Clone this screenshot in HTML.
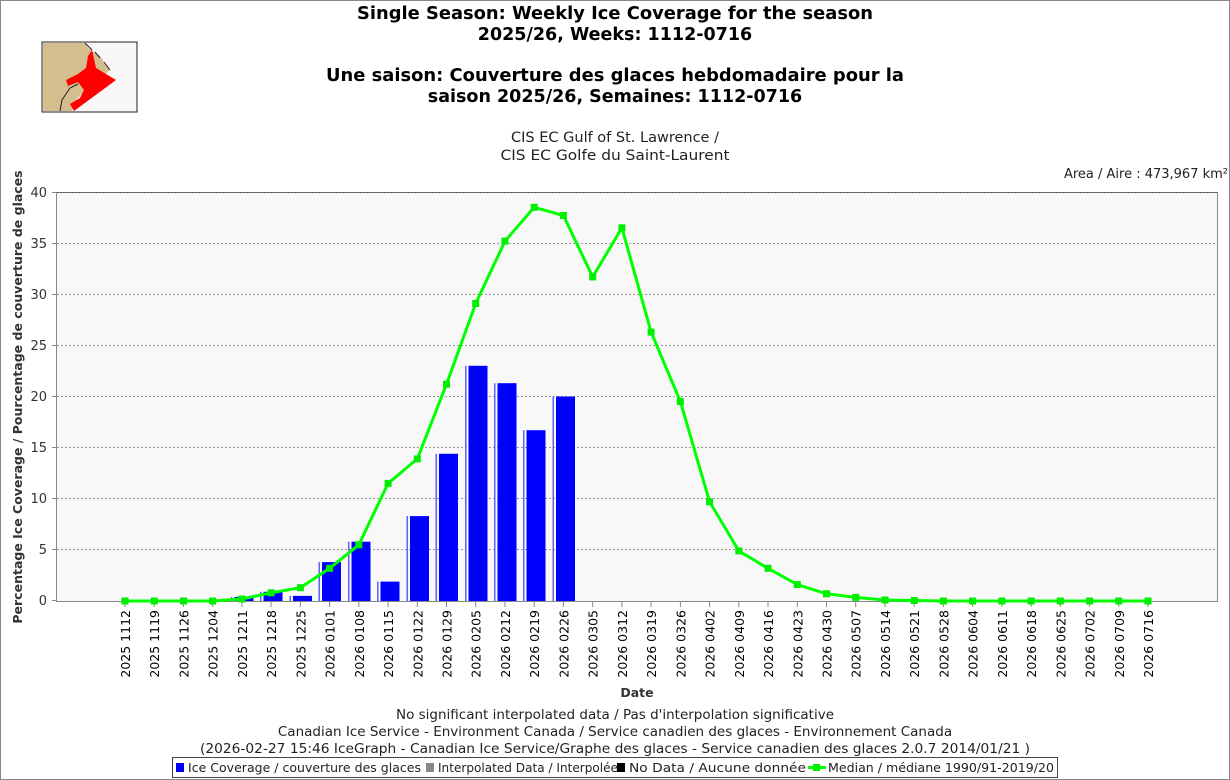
<!DOCTYPE html>
<html><head><meta charset="utf-8"><style>
html,body{margin:0;padding:0;background:#fff;}
svg{display:block;font-family:"DejaVu Sans","Liberation Sans",sans-serif;}
</style></head><body>
<svg width="1230" height="780" viewBox="0 0 1230 780" xmlns="http://www.w3.org/2000/svg">
<rect x="0.5" y="0.5" width="1229" height="779" fill="#fff" stroke="#888"/>
<!-- map -->
<rect x="42" y="42" width="95" height="70" fill="#f8f6f6" stroke="#222"/>
<path d="M43,43 L85,43 L88,48 L94,52 L100,56 L104,62 L110,70 L96,82 L86,90 L76,100 L72,111 L43,111 Z" fill="#d4be8e"/>
<path d="M88,56 L92,50 L96,68 L116,80 L74,111 L70,104 L80,98 L84,90 L78,82 L68,86 L66,80 L78,74 L86,68 Z" fill="#f00"/>
<path d="M60,111 L62,100 L70,88 L78,84 M85,43 L92,50 M95,52 L100,58 M104,62 L110,70" stroke="#222" fill="none"/>
<!-- titles -->
<g font-weight="bold" font-size="17.5" text-anchor="middle" fill="#000">
<text x="615" y="19" textLength="516" lengthAdjust="spacingAndGlyphs">Single Season: Weekly Ice Coverage for the season</text>
<text x="615" y="40">2025/26, Weeks: 1112-0716</text>
<text x="615" y="81" textLength="578" lengthAdjust="spacingAndGlyphs">Une saison: Couverture des glaces hebdomadaire pour la</text>
<text x="615" y="102">saison 2025/26, Semaines: 1112-0716</text>
</g>
<g font-size="14.5" text-anchor="middle" fill="#222">
<text x="615" y="142">CIS EC Gulf of St. Lawrence /</text>
<text x="615" y="160" textLength="229" lengthAdjust="spacingAndGlyphs">CIS EC Golfe du Saint-Laurent</text>
</g>
<text x="1228" y="178" font-size="13" text-anchor="end" fill="#222">Area / Aire : 473,967 km²</text>
<!-- plot -->
<rect x="56.5" y="192.5" width="1161" height="409" fill="#f8f8f8" stroke="#888"/>
<g stroke="#999" stroke-dasharray="2,2" stroke-width="1">
<line x1="57" x2="1217" y1="243.5" y2="243.5"/><line x1="57" x2="1217" y1="294.5" y2="294.5"/>
<line x1="57" x2="1217" y1="345.5" y2="345.5"/><line x1="57" x2="1217" y1="396.5" y2="396.5"/>
<line x1="57" x2="1217" y1="447.5" y2="447.5"/><line x1="57" x2="1217" y1="498.5" y2="498.5"/>
<line x1="57" x2="1217" y1="549.5" y2="549.5"/>
</g>
<line x1="57" x2="1217" y1="192.5" y2="192.5" stroke="#555" stroke-dasharray="2,1"/>
<g font-size="13" text-anchor="end" fill="#333">
<text x="47" y="197">40</text><text x="47" y="248">35</text><text x="47" y="299">30</text>
<text x="47" y="350">25</text><text x="47" y="401">20</text><text x="47" y="452">15</text>
<text x="47" y="503">10</text><text x="47" y="554">5</text><text x="47" y="605">0</text>
</g>
<g stroke="#888"><line x1="52" x2="56" y1="192.5" y2="192.5"/><line x1="52" x2="56" y1="243.5" y2="243.5"/><line x1="52" x2="56" y1="294.5" y2="294.5"/><line x1="52" x2="56" y1="345.5" y2="345.5"/><line x1="52" x2="56" y1="396.5" y2="396.5"/><line x1="52" x2="56" y1="447.5" y2="447.5"/><line x1="52" x2="56" y1="498.5" y2="498.5"/><line x1="52" x2="56" y1="549.5" y2="549.5"/><line x1="52" x2="56" y1="600.5" y2="600.5"/></g>
<text transform="translate(22,397) rotate(-90)" font-size="12.5" font-weight="bold" text-anchor="middle" fill="#333">Percentage Ice Coverage / Pourcentage de couverture de glaces</text>
<!-- bars -->
<g fill="#0000ff">
<rect x="231" y="596.9" width="1.5" height="4.1" fill="#6060ff"/><rect x="234.5" y="596.9" width="19" height="4.1"/>
<rect x="260" y="591.8" width="1.5" height="9.2" fill="#6060ff"/><rect x="263.5" y="591.8" width="19" height="9.2"/>
<rect x="289.5" y="595.9" width="1.5" height="5.1" fill="#6060ff"/><rect x="293" y="595.9" width="19" height="5.1"/>
<rect x="318.5" y="562.1" width="1.5" height="38.9" fill="#6060ff"/><rect x="322" y="562.1" width="19" height="38.9"/>
<rect x="348" y="541.7" width="1.5" height="59.3" fill="#6060ff"/><rect x="351.5" y="541.7" width="19" height="59.3"/>
<rect x="377" y="581.6" width="1.5" height="19.4" fill="#6060ff"/><rect x="380.5" y="581.6" width="19" height="19.4"/>
<rect x="406.5" y="516.1" width="1.5" height="84.9" fill="#6060ff"/><rect x="410" y="516.1" width="19" height="84.9"/>
<rect x="435.5" y="453.8" width="1.5" height="147.2" fill="#6060ff"/><rect x="439" y="453.8" width="19" height="147.2"/>
<rect x="465" y="365.8" width="1.5" height="235.2" fill="#6060ff"/><rect x="468.5" y="365.8" width="19" height="235.2"/>
<rect x="494" y="383.2" width="1.5" height="217.8" fill="#6060ff"/><rect x="497.5" y="383.2" width="19" height="217.8"/>
<rect x="523" y="430.2" width="1.5" height="170.8" fill="#6060ff"/><rect x="526.5" y="430.2" width="19" height="170.8"/>
<rect x="552.5" y="396.5" width="1.5" height="204.5" fill="#6060ff"/><rect x="556" y="396.5" width="19" height="204.5"/>
</g>
<line x1="57" x2="1217" y1="601.5" y2="601.5" stroke="#888"/>
<!-- x ticks -->
<g stroke="#888">
<path d="M125,602v5M154.2,602v5M183.5,602v5M212.7,602v5M241.9,602v5M271.1,602v5M300.4,602v5M329.6,602v5M358.8,602v5M388.1,602v5M417.3,602v5M446.5,602v5M475.7,602v5M505,602v5M534.2,602v5M563.4,602v5M592.7,602v5M621.9,602v5M651.1,602v5M680.4,602v5M709.6,602v5M738.8,602v5M768,602v5M797.3,602v5M826.5,602v5M855.7,602v5M885,602v5M914.2,602v5M943.4,602v5M972.6,602v5M1001.9,602v5M1031.1,602v5M1060.3,602v5M1089.6,602v5M1118.8,602v5M1148,602v5"/>
</g>
<g font-size="12.5" text-anchor="end" fill="#000">
<text transform="translate(130,610) rotate(-90)">2025 1112</text>
<text transform="translate(159.2,610) rotate(-90)">2025 1119</text>
<text transform="translate(188.5,610) rotate(-90)">2025 1126</text>
<text transform="translate(217.7,610) rotate(-90)">2025 1204</text>
<text transform="translate(246.9,610) rotate(-90)">2025 1211</text>
<text transform="translate(276.1,610) rotate(-90)">2025 1218</text>
<text transform="translate(305.4,610) rotate(-90)">2025 1225</text>
<text transform="translate(334.6,610) rotate(-90)">2026 0101</text>
<text transform="translate(363.8,610) rotate(-90)">2026 0108</text>
<text transform="translate(393.1,610) rotate(-90)">2026 0115</text>
<text transform="translate(422.3,610) rotate(-90)">2026 0122</text>
<text transform="translate(451.5,610) rotate(-90)">2026 0129</text>
<text transform="translate(480.7,610) rotate(-90)">2026 0205</text>
<text transform="translate(510,610) rotate(-90)">2026 0212</text>
<text transform="translate(539.2,610) rotate(-90)">2026 0219</text>
<text transform="translate(568.4,610) rotate(-90)">2026 0226</text>
<text transform="translate(597.7,610) rotate(-90)">2026 0305</text>
<text transform="translate(626.9,610) rotate(-90)">2026 0312</text>
<text transform="translate(656.1,610) rotate(-90)">2026 0319</text>
<text transform="translate(685.4,610) rotate(-90)">2026 0326</text>
<text transform="translate(714.6,610) rotate(-90)">2026 0402</text>
<text transform="translate(743.8,610) rotate(-90)">2026 0409</text>
<text transform="translate(773,610) rotate(-90)">2026 0416</text>
<text transform="translate(802.3,610) rotate(-90)">2026 0423</text>
<text transform="translate(831.5,610) rotate(-90)">2026 0430</text>
<text transform="translate(860.7,610) rotate(-90)">2026 0507</text>
<text transform="translate(890,610) rotate(-90)">2026 0514</text>
<text transform="translate(919.2,610) rotate(-90)">2026 0521</text>
<text transform="translate(948.4,610) rotate(-90)">2026 0528</text>
<text transform="translate(977.6,610) rotate(-90)">2026 0604</text>
<text transform="translate(1006.9,610) rotate(-90)">2026 0611</text>
<text transform="translate(1036.1,610) rotate(-90)">2026 0618</text>
<text transform="translate(1065.3,610) rotate(-90)">2026 0625</text>
<text transform="translate(1094.6,610) rotate(-90)">2026 0702</text>
<text transform="translate(1123.8,610) rotate(-90)">2026 0709</text>
<text transform="translate(1153,610) rotate(-90)">2026 0716</text>
</g>
<!-- median -->
<polyline fill="none" stroke="#00ff00" stroke-width="3" stroke-linejoin="round" points="125,601 154.2,601 183.5,601 212.7,601 241.9,599 271.1,592.8 300.4,587.7 329.6,568.3 358.8,544.8 388.1,483.4 417.3,458.9 446.5,384.2 475.7,303.5 505,241.1 534.2,207.3 563.4,215.5 592.7,276.9 621.9,227.8 651.1,332.1 680.4,401.6 709.6,501.8 738.8,550.9 768,568.3 797.3,584.6 826.5,593.8 855.7,597.4 885,600 914.2,600.5 943.4,601 972.6,601 1001.9,601 1031.1,601 1060.3,601 1089.6,601 1118.8,601 1148,601"/>
<g fill="#00ee00">
<rect x="121.5" y="597.5" width="7" height="7"/><rect x="150.7" y="597.5" width="7" height="7"/><rect x="180" y="597.5" width="7" height="7"/><rect x="209.2" y="597.5" width="7" height="7"/><rect x="238.4" y="595.5" width="7" height="7"/><rect x="267.6" y="589.3" width="7" height="7"/><rect x="296.9" y="584.2" width="7" height="7"/><rect x="326.1" y="564.8" width="7" height="7"/><rect x="355.3" y="541.3" width="7" height="7"/><rect x="384.6" y="479.9" width="7" height="7"/><rect x="413.8" y="455.4" width="7" height="7"/><rect x="443" y="380.7" width="7" height="7"/><rect x="472.2" y="300" width="7" height="7"/><rect x="501.5" y="237.6" width="7" height="7"/><rect x="530.7" y="203.8" width="7" height="7"/><rect x="559.9" y="212" width="7" height="7"/><rect x="589.2" y="273.4" width="7" height="7"/><rect x="618.4" y="224.3" width="7" height="7"/><rect x="647.6" y="328.6" width="7" height="7"/><rect x="676.9" y="398.1" width="7" height="7"/><rect x="706.1" y="498.3" width="7" height="7"/><rect x="735.3" y="547.4" width="7" height="7"/><rect x="764.5" y="564.8" width="7" height="7"/><rect x="793.8" y="581.1" width="7" height="7"/><rect x="823" y="590.3" width="7" height="7"/><rect x="852.2" y="593.9" width="7" height="7"/><rect x="881.5" y="596.5" width="7" height="7"/><rect x="910.7" y="597" width="7" height="7"/><rect x="939.9" y="597.5" width="7" height="7"/><rect x="969.1" y="597.5" width="7" height="7"/><rect x="998.4" y="597.5" width="7" height="7"/><rect x="1027.6" y="597.5" width="7" height="7"/><rect x="1056.8" y="597.5" width="7" height="7"/><rect x="1086.1" y="597.5" width="7" height="7"/><rect x="1115.3" y="597.5" width="7" height="7"/><rect x="1144.5" y="597.5" width="7" height="7"/>
</g>
<text x="637" y="697" font-size="12.5" font-weight="bold" text-anchor="middle" fill="#333">Date</text>
<g font-size="13.5" text-anchor="middle" fill="#222">
<text x="615" y="719">No significant interpolated data / Pas d'interpolation significative</text>
<text x="615" y="736">Canadian Ice Service - Environment Canada / Service canadien des glaces - Environnement Canada</text>
<text x="615" y="753" textLength="830" lengthAdjust="spacingAndGlyphs">(2026-02-27 15:46 IceGraph - Canadian Ice Service/Graphe des glaces - Service canadien des glaces 2.0.7 2014/01/21 )</text>
</g>
<!-- legend -->
<rect x="172.5" y="757.5" width="885" height="20" fill="#fff" stroke="#444"/>
<g font-size="12.5" fill="#222">
<rect x="176" y="763" width="8" height="9" fill="#0000ff"/><text x="188" y="772" textLength="233" lengthAdjust="spacingAndGlyphs">Ice Coverage / couverture des glaces</text>
<rect x="426" y="763" width="8" height="9" fill="#888"/><text x="438" y="772" textLength="180" lengthAdjust="spacingAndGlyphs">Interpolated Data / Interpolée</text>
<rect x="617" y="763" width="8" height="9" fill="#000"/><text x="629" y="772" textLength="177" lengthAdjust="spacingAndGlyphs">No Data / Aucune donnée</text>
<line x1="808" x2="826" y1="767.5" y2="767.5" stroke="#00ff00" stroke-width="3"/><rect x="813" y="764" width="7" height="7" fill="#00ee00"/><text x="828" y="772" textLength="226" lengthAdjust="spacingAndGlyphs">Median / médiane 1990/91-2019/20</text>
</g>
</svg>
</body></html>
